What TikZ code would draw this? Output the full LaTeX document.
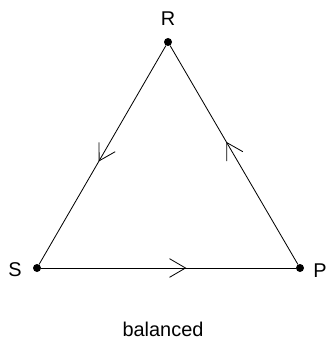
\documentclass[tikz,border=0pt]{standalone}
\usepackage{fontspec}
\setmainfont{Liberation Sans}
\usetikzlibrary{arrows.meta,decorations.markings}

\begin{document}
\begin{tikzpicture}[
  x=0.03cm, y=-0.03cm,
  every node/.style={font=\fontsize{17}{20}\selectfont},
  vtx/.style={circle, fill=black, inner sep=0pt, minimum size=0.24cm},
  edge/.style={line width=0.7pt, postaction={decorate},
               decoration={markings, mark=at position #1 with
               {\arrow{Straight Barb[length=4.8mm, width=5.6mm, line width=0.7pt]}}}},
]
  \useasboundingbox (0,0) rectangle (333,339);

  % Corners of the triangle
  \node[vtx] (r) at (168,42)  {};
  \node[vtx] (s) at (37,268)  {};
  \node[vtx] (p) at (300,268) {};

  % Labels
  \node (rl) at (168,19)  {R};
  \node (sl) at (15,270)  {S};
  \node (pl) at (320,271) {P};
  \node (cap) at (163,329) {balanced};

  % Cycle S -> P -> R -> S
  \draw[edge=0.57] (s) -- (p);
  \draw[edge=0.56] (p) -- (r);
  \draw[edge=0.53] (r) -- (s);
\end{tikzpicture}
\end{document}
